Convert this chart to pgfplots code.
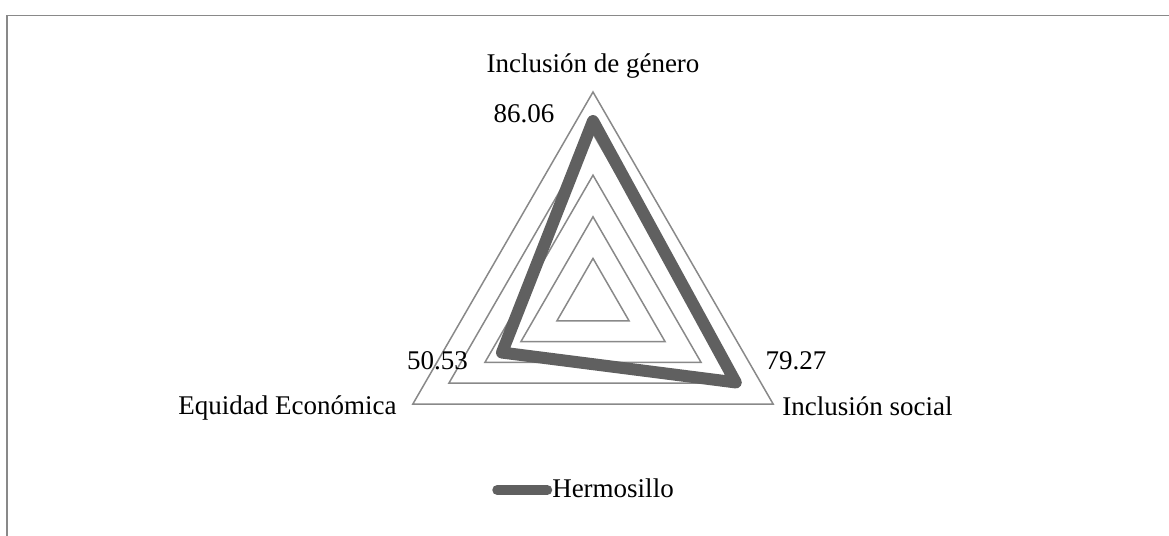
\documentclass[border=0pt]{standalone}
\usepackage{fontspec}
\setmainfont{Liberation Serif}
\usepackage{pgfplots}
\pgfplotsset{compat=1.18}
\usepgfplotslibrary{polar}
\definecolor{serie}{RGB}{96,96,96}
\definecolor{rejilla}{RGB}{137,137,137}
\begin{document}
\begin{tikzpicture}[font=\fontsize{13.5bp}{16bp}\selectfont]
\begin{polaraxis}[
  hide axis,
  scale only axis,
  width=208bp, height=208bp,
  ymin=0, ymax=100,
  clip=false,
  legend style={at={(axis cs:270,91.35)}, anchor=center, xshift=-5bp,
    draw=none, fill=none, inner sep=0pt, outer sep=0pt,
    nodes={inner sep=0pt, outer sep=0pt},
    font=\fontsize{13.5bp}{16bp}\selectfont},
  legend image code/.code={\draw[#1, line width=5bp, line cap=round] (2.5bp,0bp) -- (27.5bp,0bp);},
]
% grid triangles
\addplot[rejilla, line width=0.75bp, forget plot] coordinates {(90,20) (210,20) (330,20)} -- cycle;
\addplot[rejilla, line width=0.75bp, forget plot] coordinates {(90,40) (210,40) (330,40)} -- cycle;
\addplot[rejilla, line width=0.75bp, forget plot] coordinates {(90,60) (210,60) (330,60)} -- cycle;
\addplot[rejilla, line width=0.75bp, forget plot] coordinates {(90,80) (210,80) (330,80)} -- cycle;
\addplot[rejilla, line width=0.75bp, forget plot] coordinates {(90,100) (210,100) (330,100)} -- cycle;
% data
\addplot[serie, line width=6bp, line join=round, line cap=round, mark=none]
  coordinates {(90,86.06) (330,79.27) (210,50.53)} -- cycle;
\addlegendentry{Hermosillo}
\coordinate (c) at (axis cs:0,0);
\end{polaraxis}
% labels (offsets from centre, 1px = 0.5bp)
\node[anchor=base] at ([yshift=113.5bp]c) {Inclusión de género};
\node[anchor=base] at ([xshift=-34.5bp,yshift=88.5bp]c) {86.06};
\node[anchor=base] at ([xshift=-77.75bp,yshift=-35bp]c) {50.53};
\node[anchor=base] at ([xshift=101.5bp,yshift=-35bp]c) {79.27};
\node[anchor=base west, inner sep=0pt] at ([xshift=94.5bp,yshift=-58bp]c) {Inclusión social};
\node[anchor=base east, inner sep=0pt] at ([xshift=-98bp,yshift=-57.5bp]c) {Equidad Económica};
% frame (top and left edges visible)
\draw[rejilla, line width=0.9bp] ([xshift=-293bp,yshift=-130bp]c) -- ([xshift=-293bp,yshift=142.25bp]c) -- ([xshift=300bp,yshift=142.25bp]c);
\pgfresetboundingbox
\path ([xshift=-296.5bp,yshift=-118bp]c) rectangle ([xshift=288bp,yshift=150bp]c);
\end{tikzpicture}
\end{document}
